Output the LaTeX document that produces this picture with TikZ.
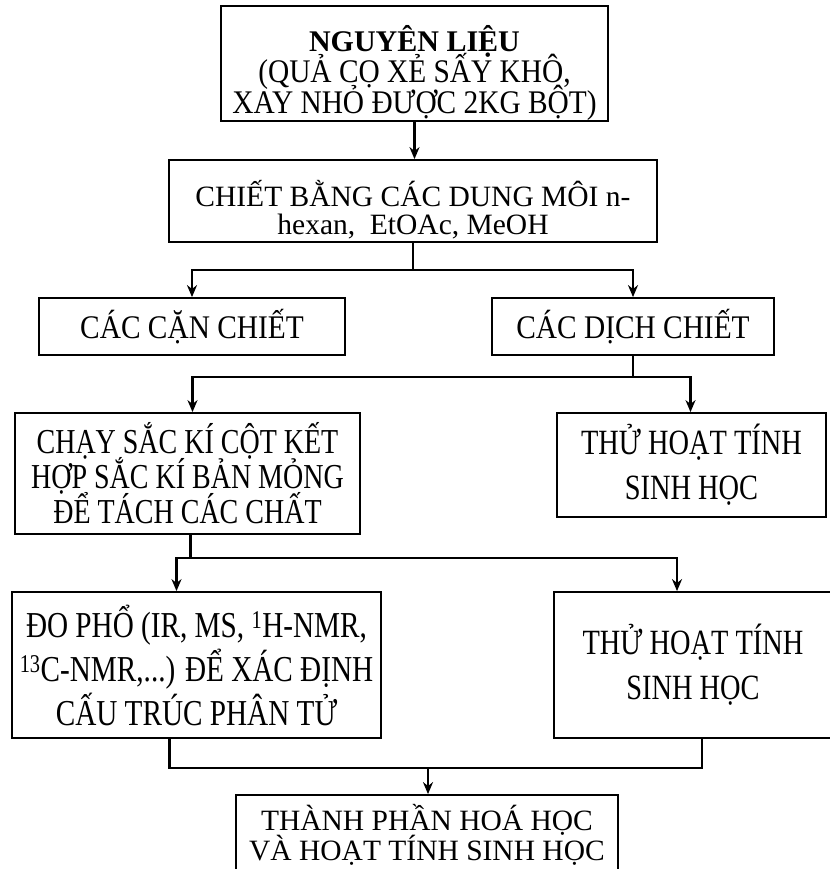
\documentclass[tikz,border=0pt]{standalone}
\usepackage{fontspec}
\setmainfont{Liberation Serif}
\newfontfamily\narrowfont[FakeStretch=0.8]{Liberation Serif}
\newfontfamily\semifont[FakeStretch=0.89]{Liberation Serif}
\usetikzlibrary{arrows.meta}
\setlength{\lineskiplimit}{-100pt}

\begin{document}
\begin{tikzpicture}[x=1pt,y=-1pt,>={Stealth[length=12pt,width=10pt]},
                    box/.style={draw,line width=1.8pt,inner sep=0pt,align=center},
                    link/.style={line width=2.4pt}]
  \useasboundingbox (0,0) rectangle (829,869);

  \node[box,minimum width=387pt,minimum height=107pt,
        font=\fontsize{33}{31}\selectfont\semifont] (raw) at (414.5,63.5)
        {{\fontsize{30}{31}\selectfont\rmfamily\bfseries\rule{0pt}{46pt}NGUYÊN LIỆU}\\(QUẢ CỌ XẺ SẤY KHÔ,\\XAY NHỎ ĐƯỢC 2KG BỘT)};
  \node[box,minimum width=488pt,minimum height=82pt,
        font=\fontsize{29.5}{28}\selectfont] (extract) at (413,201)
        {\rule{0pt}{43pt}CHIẾT BẰNG CÁC DUNG MÔI n-\\hexan,\ \ EtOAc, MeOH};
  \node[box,minimum width=306pt,minimum height=57pt,
        font=\fontsize{33}{33}\selectfont\semifont] (residue) at (192,326.5) {CÁC CẶN CHIẾT};
  \node[box,minimum width=282pt,minimum height=57pt,
        font=\fontsize{33}{33}\selectfont\semifont] (fluid) at (633,326.5) {CÁC DỊCH CHIẾT};
  \node[box,minimum width=345pt,minimum height=121pt,
        font=\fontsize{35}{35}\selectfont\narrowfont] (chroma) at (187.5,473.5)
        {CHẠY SẮC KÍ CỘT KẾT\\HỢP SẮC KÍ BẢN MỎNG\\ĐỂ TÁCH CÁC CHẤT};
  \node[box,minimum width=269pt,minimum height=104pt,
        font=\fontsize{35.5}{45}\selectfont\narrowfont] (bioA) at (691.5,465)
        {THỬ HOẠT TÍNH\\SINH HỌC};
  \node[box,minimum width=369pt,minimum height=146pt,
        font=\fontsize{36.5}{44}\selectfont\narrowfont] (spectra) at (196.5,665)
        {ĐO PHỔ (IR, MS, \textsuperscript{1}H-NMR,\\\textsuperscript{13}C-NMR,...) ĐỂ XÁC ĐỊNH\\CẤU TRÚC PHÂN TỬ};
  \node[box,minimum width=278pt,minimum height=146pt,
        font=\fontsize{35.5}{45}\selectfont\narrowfont] (bioB) at (693,665)
        {THỬ HOẠT TÍNH\\SINH HỌC};
  \node[box,minimum width=382pt,minimum height=80pt,
        font=\fontsize{29.5}{30}\selectfont] (result) at (427,835)
        {THÀNH PHẦN HOÁ HỌC\\VÀ HOẠT TÍNH SINH HỌC};

  \coordinate (merge) at (428,768);

  \draw[link,->] (raw.south) -- (raw.south |- extract.north);
  \draw[link,->] (extract.south) -- ++(0,27) -| (residue.north);
  \draw[link,->] (extract.south) -- ++(0,27) -| (fluid.north);
  \draw[link,->] (fluid.south) -- ++(0,21) -| ([xshift=5pt]chroma.north);
  \draw[link,->] (fluid.south) -- ++(0,21) -| ([xshift=-1pt]bioA.north);
  \draw[link,->] ([xshift=3pt]chroma.south) -- ++(0,23) -| ([xshift=-20pt]spectra.north);
  \draw[link,->] ([xshift=3pt]chroma.south) -- ++(0,23) -| ([xshift=-16pt]bioB.north);
  \draw[link] ([xshift=-27pt]spectra.south) |- (merge) -| ([xshift=9pt]bioB.south);
  \draw[link,->] (merge) -- (merge |- result.north);
\end{tikzpicture}
\end{document}
